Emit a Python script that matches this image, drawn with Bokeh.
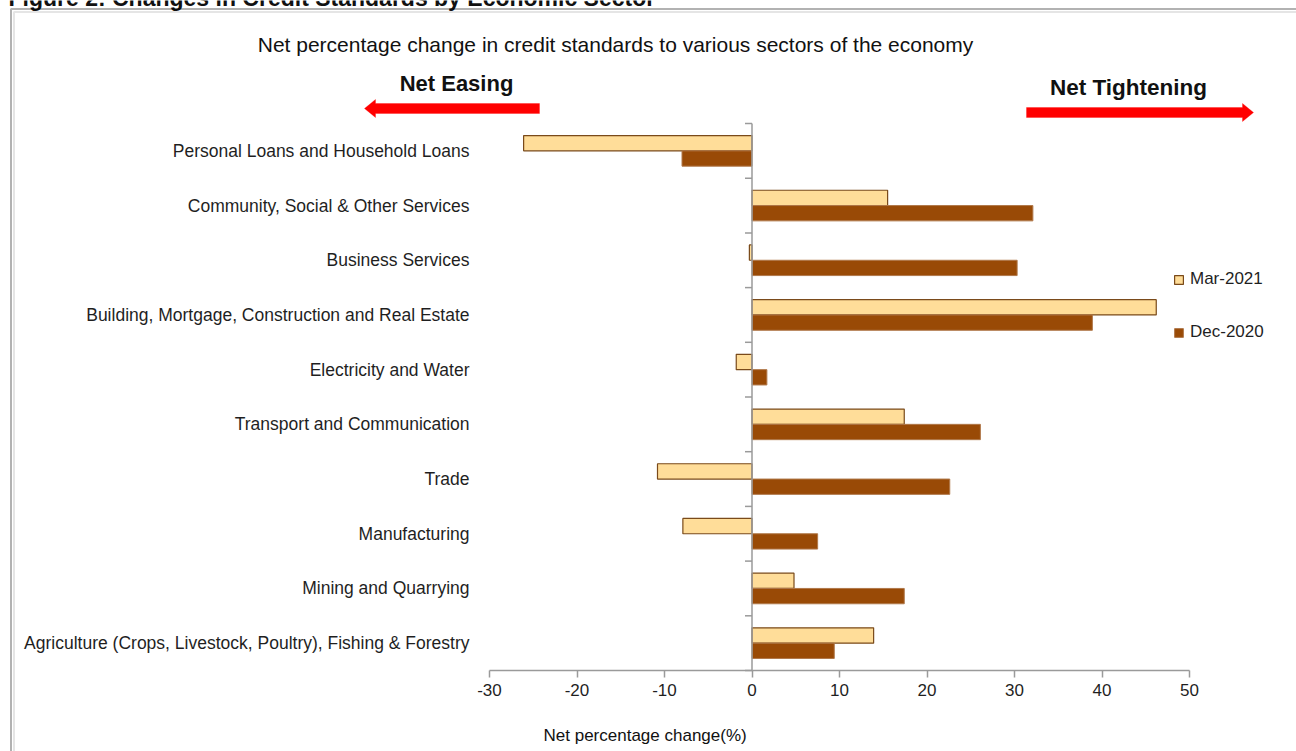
from bokeh.plotting import figure
from bokeh.models import (ColumnDataSource, Range1d, FixedTicker, LinearAxis,
                          Label, PolyAnnotation, BoxAnnotation, Legend, LegendItem)
from bokeh.transform import dodge
from bokeh.embed import file_html
from bokeh.resources import INLINE

# ---------------- data ----------------
categories = [
    "Personal Loans and Household Loans",
    "Community, Social & Other Services",
    "Business Services",
    "Building, Mortgage, Construction and Real Estate",
    "Electricity and Water",
    "Transport and Communication",
    "Trade",
    "Manufacturing",
    "Mining and Quarrying",
    "Agriculture (Crops, Livestock, Poultry), Fishing & Forestry",
]
mar_2021 = [-26.1, 15.5, -0.3, 46.2, -1.8, 17.4, -10.8, -7.9, 4.8, 13.9]
dec_2020 = [-8.0, 32.1, 30.3, 38.9, 1.7, 26.1, 22.6, 7.5, 17.4, 9.4]
x_ticks = [-30, -20, -10, 0, 10, 20, 30, 40, 50]
series_names = ["Mar-2021", "Dec-2020"]

# ---------------- layout (page pixels) ----------------
W, H = 1296, 751
PL, PR, PT, PB = 489, 1189, 123, 670   # plotting area edges in page pixels
n = len(categories)
XMIN, XMAX = x_ticks[0], x_ticks[-1]
xpp = (PR - PL) / (XMAX - XMIN)         # pixels per x unit
ypp = (PB - PT) / n                     # pixels per category band

def sx(px):
    return px

def sy(py):
    return H - py

FONT = "Liberation Sans, Arial, sans-serif"
TXT = "#1f1f1f"
GREY = "#9a9a9a"
MAR_FILL, MAR_LINE = "#FFDD99", "#7A4A1A"
DEC_FILL, DEC_LINE = "#994A06", "#B0784A"

ypos = list(range(n - 1, -1, -1))       # top category gets the highest position

p = figure(width=W, height=H, output_backend="svg", toolbar_location=None,
           x_axis_location=None, y_axis_location=None,
           x_range=Range1d(XMIN - PL / xpp, XMAX + (W - PR) / xpp),
           y_range=Range1d(-0.5 - (H - PB) / ypp, n - 0.5 + PT / ypp),
           min_border=0)
p.outline_line_color = None
p.grid.visible = False
p.background_fill_color = "white"
p.border_fill_color = "white"

src = ColumnDataSource(dict(cat=categories, y=ypos, mar=mar_2021, dec=dec_2020))

r_mar = p.hbar(y=dodge("y", 0.14), left=0, right="mar", height=0.28,
               source=src, fill_color=MAR_FILL, line_color=MAR_LINE, line_width=1.2)
r_dec = p.hbar(y=dodge("y", -0.14), left=0, right="dec", height=0.28,
               source=src, fill_color=DEC_FILL, line_color=DEC_LINE, line_width=1)

# zero axis line with category separators
bounds = [k - 0.5 for k in range(n + 1)]
p.segment(x0=[0], x1=[0], y0=[bounds[0]], y1=[bounds[-1]], line_color=GREY, line_width=1.5)
p.segment(x0=[-7 / xpp] * len(bounds), x1=[0] * len(bounds), y0=bounds, y1=bounds,
          line_color=GREY, line_width=1.5)

# x axis
xa = LinearAxis(fixed_location=bounds[0], bounds=(XMIN, XMAX),
                ticker=FixedTicker(ticks=x_ticks),
                major_label_overrides={t: str(t) for t in x_ticks})
xa.axis_line_color = GREY
xa.axis_line_width = 1.5
xa.major_tick_line_color = GREY
xa.major_tick_line_width = 1.5
xa.major_tick_out = 7
xa.major_tick_in = 0
xa.minor_tick_line_color = None
xa.major_label_text_font = FONT
xa.major_label_text_font_size = "17px"
xa.major_label_text_color = TXT
xa.major_label_standoff = 6
p.add_layout(xa, "below")

# y axis (category labels)
ya = LinearAxis(fixed_location=XMIN, ticker=FixedTicker(ticks=ypos),
                major_label_overrides={y: c for y, c in zip(ypos, categories)})
ya.axis_line_color = None
ya.major_tick_line_color = None
ya.major_tick_out = 0
ya.major_tick_in = 0
ya.minor_tick_line_color = None
ya.major_label_text_font = FONT
ya.major_label_text_font_size = "17.5px"
ya.major_label_text_color = TXT
ya.major_label_standoff = 20
p.add_layout(ya, "left")

# legend
legend = Legend(items=[LegendItem(label=series_names[0], renderers=[r_mar]),
                       LegendItem(label=series_names[1], renderers=[r_dec])],
                location=(sx(1173), sy(342)), orientation="vertical",
                glyph_width=11, glyph_height=11, label_height=20, spacing=33,
                label_standoff=6, padding=0, margin=0,
                border_line_color=None, background_fill_alpha=0,
                label_text_font=FONT, label_text_font_size="17px",
                label_text_color=TXT)
p.add_layout(legend)

# texts
def add_text(text, px, py, size, bold=False, align="center", baseline="middle"):
    p.add_layout(Label(x=sx(px), y=sy(py), x_units="screen", y_units="screen", text=text,
                       text_font=FONT, text_font_size=size, text_color="#111111",
                       text_font_style="bold" if bold else "normal",
                       text_align=align, text_baseline=baseline))

add_text("Figure 2: Changes in Credit Standards by Economic Sector", 8, -3, "23px",
         bold=True, align="left", baseline="alphabetic")
add_text("Net percentage change in credit standards to various sectors of the economy",
         615, 44, "21px")
add_text("Net Easing", 456, 83, "22px", bold=True)
add_text("Net Tightening", 1128, 87, "22.5px", bold=True)
add_text("Net percentage change(%)", 543, 735, "17px", align="left")

# red arrows
left_arrow = [(539, 103), (375, 103), (375, 99), (364, 108), (375, 117), (375, 113), (539, 113)]
right_arrow = [(1026, 107), (1242, 107), (1242, 103), (1253, 112), (1242, 121), (1242, 117), (1026, 117)]
for pts in (left_arrow, right_arrow):
    p.add_layout(PolyAnnotation(xs=[sx(a) for a, b in pts], ys=[sy(b) for a, b in pts],
                                xs_units="screen", ys_units="screen",
                                fill_color="#FF0000", fill_alpha=1, line_color="#FF0000",
                                line_width=1))

# page frame
p.add_layout(BoxAnnotation(left=sx(13.5), right=sx(1320), top=sy(11.5), bottom=sy(780),
                           left_units="screen", right_units="screen",
                           top_units="screen", bottom_units="screen",
                           fill_alpha=0, line_color="#a8a8a8", line_width=2))
p.add_layout(BoxAnnotation(left=sx(10.5), right=sx(1320), top=sy(8.5), bottom=sy(780),
                           left_units="screen", right_units="screen",
                           top_units="screen", bottom_units="screen",
                           fill_alpha=0, line_color="black", line_width=2))

open("out.html", "w").write(file_html(p, INLINE))
